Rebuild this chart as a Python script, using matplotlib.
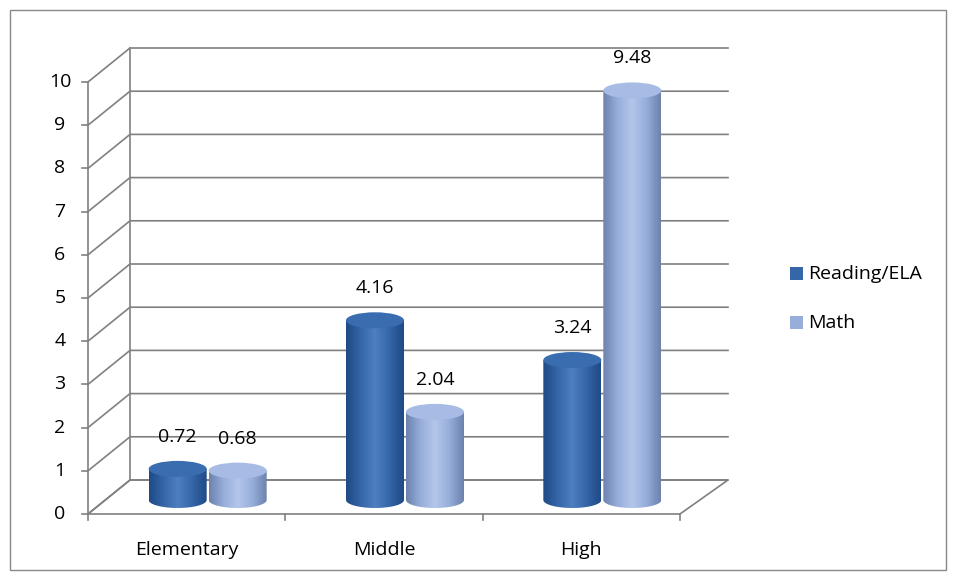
import numpy as np
import matplotlib.pyplot as plt
from matplotlib.patches import Rectangle, Ellipse, Polygon, PathPatch
from matplotlib.path import Path
from matplotlib.colors import LinearSegmentedColormap

plt.rcParams['font.family'] = ['Open Sans', 'DejaVu Sans']

categories = ["Elementary", "Middle", "High"]
series = ["Reading/ELA", "Math"]
reading = [0.72, 4.16, 3.24]
math_vals = [0.68, 2.04, 9.48]
yticks = list(range(0, 11))

# pixel-space geometry of the pseudo-3D plot
X0, X1 = 88, 680          # front floor edge
Y0, PX = 514, 43.2        # front y of value 0, pixels per unit
DX, DY = 42, -34          # depth offset of the back wall
BASE = 500                # cylinder base (centre of bottom ellipse)
BW, EH = 58, 16           # cylinder width, ellipse height

fig = plt.figure(figsize=(9.56, 5.8), dpi=100)
ax = fig.add_axes([0, 0, 1, 1])
ax.set_xlim(0, 956)
ax.set_ylim(580, 0)
ax.axis("off")
ax.add_patch(Rectangle((10, 10), 936, 560, fill=False, edgecolor="#888888", lw=1))

gc = "#808080"
for v in yticks:
    yf = Y0 - v * PX
    ax.plot([X0, X0 + DX, X1 + DX + 6], [yf, yf + DY, yf + DY], color=gc, lw=1.2)
    ax.plot([X0 - 6, X0], [yf, yf], color=gc, lw=1.2)
    ax.text(X0 - 28, yf, str(v), ha="center", va="center", fontsize=14)
ax.plot([X0, X0], [Y0, Y0 - 10 * PX], color=gc, lw=1.2)
ax.plot([X0 + DX, X0 + DX], [Y0 + DY, Y0 - 10 * PX + DY], color=gc, lw=1.2)
ax.add_patch(Polygon([(X0, Y0), (X1, Y0), (X1 + DX + 6, Y0 + DY), (X0 + DX, Y0 + DY)],
                     closed=True, fill=False, edgecolor=gc, lw=1.2))
step = (X1 - X0) / len(categories)
for i in range(len(categories) + 1):
    x = X0 + i * step
    ax.plot([x, x], [Y0, Y0 + 6], color=gc, lw=1.2)
for i, c in enumerate(categories):
    ax.text(X0 + (i + 0.5) * step, 550, c, ha="center", va="center", fontsize=14)


def cylinder(cx, v, dark, mid, light, topc):
    top = BASE - v * PX
    verts = [(cx - BW / 2, top), (cx - BW / 2, BASE)]
    t = np.linspace(np.pi, 0, 30)
    verts += [(cx + BW / 2 * np.cos(a), BASE + EH / 2 * np.sin(a)) for a in t]
    verts += [(cx + BW / 2, top), (cx - BW / 2, top)]
    patch = PathPatch(Path(verts), facecolor="none", edgecolor="none")
    ax.add_patch(patch)
    cmap = LinearSegmentedColormap.from_list("c", [dark, mid, light, mid, dark])
    grad = np.linspace(0, 1, 100).reshape(1, -1)
    im = ax.imshow(grad, cmap=cmap, aspect="auto",
                   extent=(cx - BW / 2, cx + BW / 2, BASE + EH, top), zorder=2)
    im.set_clip_path(patch)
    ax.add_patch(Ellipse((cx, top), BW, EH, facecolor=topc, edgecolor="none", zorder=3))
    ax.text(cx, top - 32, f"{v:.2f}", ha="center", va="center", fontsize=14)


for i in range(len(categories)):
    c = X0 + (i + 0.5) * step + DX / 2
    cylinder(c - 30, reading[i], "#1f4a86", "#3566a8", "#4e7fc0", "#3a6cb0")
    cylinder(c + 30, math_vals[i], "#6d82ad", "#97aedb", "#b4c6ea", "#a7bbe4")

ax.add_patch(Rectangle((790, 267), 13, 13, facecolor="#3566a8"))
ax.add_patch(Rectangle((790, 316), 13, 13, facecolor="#97aedb"))
ax.text(808, 274, series[0], va="center", fontsize=14)
ax.text(808, 323, series[1], va="center", fontsize=14)

fig.savefig("out.png", dpi=100)
